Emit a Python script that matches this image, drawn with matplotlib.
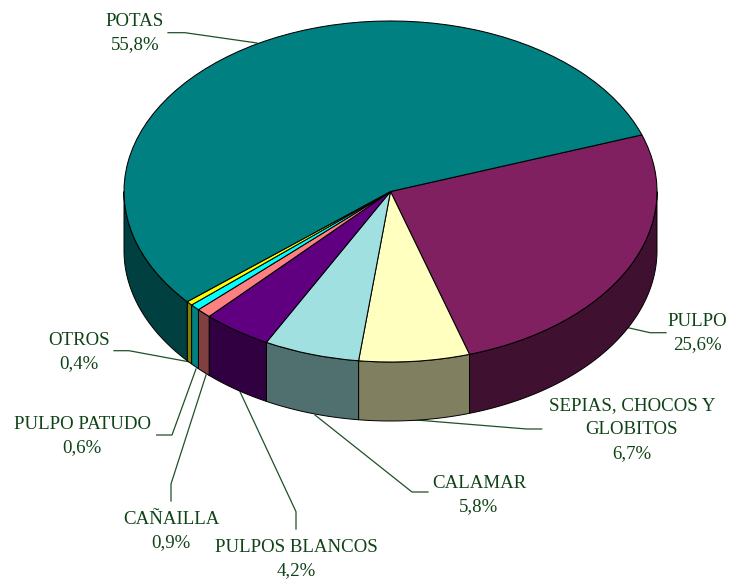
import numpy as np
import matplotlib
matplotlib.use("Agg")
import matplotlib.pyplot as plt

# data
names = ["PULPO", "SEPIAS, CHOCOS Y\nGLOBITOS", "CALAMAR", "PULPOS BLANCOS", "CAÑAILLA",
         "PULPO PATUDO", "OTROS", "POTAS"]
values = [25.6, 6.7, 5.8, 4.2, 0.9, 0.6, 0.4, 55.8]
top_colors = ["#802060", "#FFFFC0", "#A0E0E0", "#600080", "#FF8080", "#00FFFF", "#FFFF00", "#008080"]
side_colors = ["#401030", "#808060", "#507070", "#300040", "#804040", "#008080", "#808000", "#004040"]

# layout, everything in picture pixels
W, H = 729, 580
cx, cy = 390.5, 191.5
rx, ry = 266.5, 170.5
depth = 59 / ry
start = 19.4
text_col = "#0F4216"
line_col = "#1F5026"

label_pos = [(697, 333), (632, 429.5), (479, 495), (296, 559), (171, 531), (82, 436), (79, 352), (135, 33)]
leaders = [
    [(666, 332.7), (650, 332.7), (628, 327.7)],
    [(541.7, 429), (526.7, 429), (410, 419.5)],
    [(428, 492), (412, 492), (315, 415)],
    [(296, 529), (296, 511.7), (240, 391.7)],
    [(171, 501), (171, 484), (206, 375)],
    [(156.7, 435), (172, 435), (196, 369)],
    [(114, 350.7), (129, 350.7), (190, 362)],
    [(168, 32.7), (185, 32.7), (257, 43)],
]


def px(x, y):
    # picture pixels to pie units
    return (x - cx) / rx, (cy - y) / ry


fig = plt.figure(figsize=(W / 100, H / 100), dpi=100)
ax = fig.add_axes([0, 0, 1, 1])
plt.rcParams["font.family"] = ["Liberation Serif", "DejaVu Serif"]

# side walls, only the part of each slice on the front half
angle = start
for v, col in zip(values, side_colors):
    a1 = angle
    a2 = angle - v * 3.6
    angle = a2
    for shift in (0, 360):
        hi = min(a1 + shift, 0)
        lo = max(a2 + shift, -180)
        if hi <= lo:
            continue
        t = np.radians(np.linspace(hi, lo, 80))
        xs = np.cos(t)
        ys = np.sin(t)
        ax.fill(np.r_[xs, xs[::-1]], np.r_[ys, ys[::-1] - depth], facecolor=col,
                edgecolor="black", linewidth=0.7, zorder=1)

# top of the pie
ax.pie(values, colors=top_colors, startangle=start, counterclock=False, radius=1,
       wedgeprops={"edgecolor": "black", "linewidth": 0.75, "zorder": 2})
ax.set_aspect("auto")
ax.set_xlim(px(0, 0)[0], px(W, 0)[0])
ax.set_ylim(px(0, H)[1], px(0, 0)[1])

# labels and leader lines, the lines go behind the pie
for name, v, pos, pts in zip(names, values, label_pos, leaders):
    lx, ly = zip(*[px(*p) for p in pts])
    ax.plot(lx, ly, color=line_col, linewidth=0.9, zorder=0.5)
    tx, ty = px(*pos)
    label = name + "\n" + f"{v:.1f}%".replace(".", ",")
    ax.text(tx, ty, label, ha="center", va="center", color=text_col, fontsize=13.6,
            linespacing=1.52, zorder=4)

fig.savefig("out.png", dpi=100, facecolor="white")
